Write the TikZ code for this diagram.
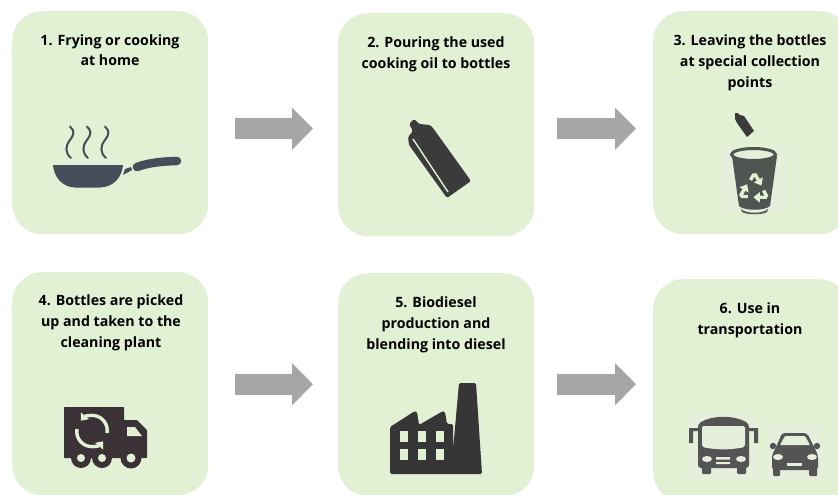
\documentclass[tikz,border=0pt]{standalone}
\usepackage{fontspec}
\setmainfont{Open Sans}
\usetikzlibrary{arrows.meta,calc}
\definecolor{boxgreen}{HTML}{E2F0D4}
\definecolor{iconlight}{HTML}{E2F0D4}
\definecolor{patch}{HTML}{E5EFDC}
\definecolor{pancol}{HTML}{474C5A}
\definecolor{darkicon}{HTML}{3B3B3B}
\definecolor{trashcol}{HTML}{505552}
\definecolor{truckcol}{HTML}{3A3236}
\definecolor{factcol}{HTML}{363636}
\definecolor{carcol}{HTML}{545454}
\definecolor{arrowgray}{HTML}{A6A6A6}
\tikzset{
  panelbox/.style={fill=boxgreen,draw=none,rounded corners=30pt,minimum width=196pt,minimum height=223pt,inner sep=0pt,anchor=north west},
  caption/.style={align=center,font=\fontsize{14.2}{21}\selectfont\bfseries,text=black,inner sep=0pt,anchor=base},
  flow/.style={draw=arrowgray,line width=21pt,-{Triangle[length=21pt,width=41pt,fill=arrowgray]}},
  steam/.style={draw=pancol,line width=2pt,line cap=round},
  recyc/.style={draw=iconlight,line width=3.4pt,-{Triangle[length=6.5pt,width=10pt]}},
}
\begin{document}
\begin{tikzpicture}[x=1pt,y=-1pt]
\useasboundingbox (0,0) rectangle (838,495);
\clip (0,0) rectangle (838,495);
\fill[white] (0,0) rectangle (838,495);
% panels
\node[panelbox] (b1) at (12,11) {};
\node[panelbox] (b2) at (338,13) {};
\node[panelbox] (b3) at (653,11) {};
\node[panelbox] (b4) at (12,272) {};
\node[panelbox] (b5) at (338,273) {};
\node[panelbox] (b6) at (653,279) {};
% captions
\node[caption] (t1a) at (110,45.5) {1. Frying or cooking};
\node[caption] (t1b) at (110,66) {at home};
\node[caption] (t2a) at (436,48) {2. Pouring the used};
\node[caption] (t2b) at (436,69) {cooking oil to bottles};
\node[caption] (t3a) at (750,46) {3. Leaving the bottles};
\node[caption] (t3b) at (750,66.5) {at special collection};
\node[caption] (t3c) at (750,88) {points};
\node[caption] (t4a) at (111,305.5) {4. Bottles are picked};
\node[caption] (t4b) at (111,326.5) {up and taken to the};
\node[caption] (t4c) at (111,347.5) {cleaning plant};
\node[caption] (t5a) at (436,307.5) {5. Biodiesel};
\node[caption] (t5b) at (436,328.5) {production and};
\node[caption] (t5c) at (436,349.5) {blending into diesel};
\node[caption] (t6a) at (750,313.5) {6. Use in};
\node[caption] (t6b) at (750,334.5) {transportation};
% connectors
\coordinate (a1s) at ($(b1.east)+(27,6)$);
\coordinate (a1e) at ($(b2.west)+(-25,4)$);
\coordinate (a2s) at ($(b2.east)+(23,4)$);
\coordinate (a2e) at ($(b3.west)+(-17,6)$);
\coordinate (a3s) at ($(b4.east)+(27,0.5)$);
\coordinate (a3e) at ($(b5.west)+(-25,-0.5)$);
\coordinate (a4s) at ($(b5.east)+(23,-0.5)$);
\coordinate (a4e) at ($(b6.west)+(-17,-6.5)$);
\draw[flow] (a1s) -- (a1e);
\draw[flow] (a2s) -- (a2e);
\draw[flow] (a3s) -- (a3e);
\draw[flow] (a4s) -- (a4e);
% frying pan
\fill[pancol] (53,165) -- (123,165) .. controls (122,177) and (114,187) .. (100,187.5) -- (75,187.5) .. controls (62,187) and (54,177) .. (53,165) -- cycle;
\fill[pancol] (123,175) -- (125,169) -- (131,167) -- (132,170) -- cycle;
\draw[pancol,line width=8.5pt,line cap=round] (137,167) .. controls (148,163) and (160,161.5) .. (177,161);
\foreach \sx in {70,87,105}{
  \draw[steam] (\sx,126.5) .. controls (\sx+5,131) and (\sx+4,135) .. (\sx,140) .. controls (\sx-5,146) and (\sx-5,153) .. (\sx+1,158);
}
% bottle
\fill[darkicon,rounded corners=1.5pt] (409,124) -- (414,119) -- (419,124) -- (430,125) -- (433,128) -- (471,181) -- (447,198) -- (409,145) -- (408,137) -- (413,131) -- cycle;
\draw[iconlight,line width=1.4pt] (413,139) -- (448,192);
% small bottle and bin
\fill[patch] (722,147) rectangle (787,213);
\fill[darkicon] (735,113) -- (737.5,113) -- (740,115) -- (744,116) -- (754,131) -- (747,137) -- (737,123) -- (735,119) -- cycle;
\fill[trashcol] (732,156) -- (777,156) -- (770,206) .. controls (765,211) and (744,211) .. (739,206) -- cycle;
\fill[trashcol] (741,209) .. controls (746,214) and (763,214) .. (768,209) -- (767,212) .. controls (762,215) and (747,215) .. (742,212) -- cycle;
\draw[trashcol,line width=3pt,fill=patch] (753.5,154.5) ellipse (22pt and 6pt);
\foreach \rr in {0,120,240}{
  \begin{scope}[shift={(754,189)},rotate=\rr]
    \draw[recyc] (-3.5,-9) -- (-0.5,-14) -- (1.5,-14) -- (7.5,-3.5);
  \end{scope}
}
% truck
\fill[truckcol,rounded corners=0.6pt] (64,407) -- (124,407) -- (124,420) -- (137,420) -- (147,430) -- (147,458) -- (64,458) -- cycle;
\fill[truckcol] (81,458) circle (10pt) (102,458) circle (10pt) (131,458) circle (10.5pt);
\fill[iconlight] (81,458) circle (4pt) (102,458) circle (4pt) (131,458) circle (4.5pt);
\fill[iconlight] (127,427) -- (135,427) -- (142,436) -- (127,436) -- cycle;
\draw[recyc] (107,433) arc (10:-140:15);
\draw[recyc] (77,429) arc (190:40:15);
% factory
\fill[factcol,rounded corners=1.5pt] (390,427) -- (415,411) -- (417,412) -- (419,425) -- (443,411) -- (445,412) -- (447,424) -- (453,424) -- (453,450) -- (459,383) -- (476,383) -- (482,474) -- (390,474) -- cycle;
\foreach \wx in {400,418,436}{
  \foreach \wy in {431,449}{
    \fill[iconlight] (\wx,\wy) rectangle ++(7.5,11);
  }
}
% bus
\fill[patch] (688,412) rectangle (758,480);
\fill[carcol,rounded corners=3pt] (698,424) .. controls (712,415) and (735,415) .. (749,424) -- (749,468) -- (698,468) -- cycle;
\fill[carcol,rounded corners=1pt] (702,466) rectangle (711,474) (737,466) rectangle (746,474);
\fill[carcol] (689,428) rectangle (698,431) (689,428) rectangle (693,443);
\fill[carcol] (749,428) rectangle (758,431) (754,428) rectangle (758,443);
\fill[patch,rounded corners=2pt] (702,426) -- (745,426) -- (745,447) .. controls (730,450) and (717,450) .. (702,447) -- cycle;
\fill[patch] (707,459) ellipse (5pt and 3pt) (741,459) ellipse (5pt and 3pt);
\fill[patch] (716,457) rectangle (730,459.5) (716,462) rectangle (730,464);
% car
\fill[patch] (767,423) rectangle (823,480);
\fill[carcol,rounded corners=3pt] (772,455) -- (777,445) -- (782,433) -- (807,433) -- (813,445) -- (818,455) -- (818,470) -- (772,470) -- cycle;
\fill[carcol,rounded corners=1pt] (773,468) rectangle (780,476) (809,468) rectangle (817,476);
\fill[carcol] (773,446) circle (3.2pt) (817,446) circle (3.2pt);
\fill[patch,rounded corners=1pt] (780,445) -- (785,436) -- (805,436) -- (810,445) -- cycle;
\fill[patch] (778,457) ellipse (5pt and 3pt) (812,457) ellipse (5pt and 3pt);
\fill[patch] (787,463) rectangle (802,465.5);
\end{tikzpicture}
\end{document}
